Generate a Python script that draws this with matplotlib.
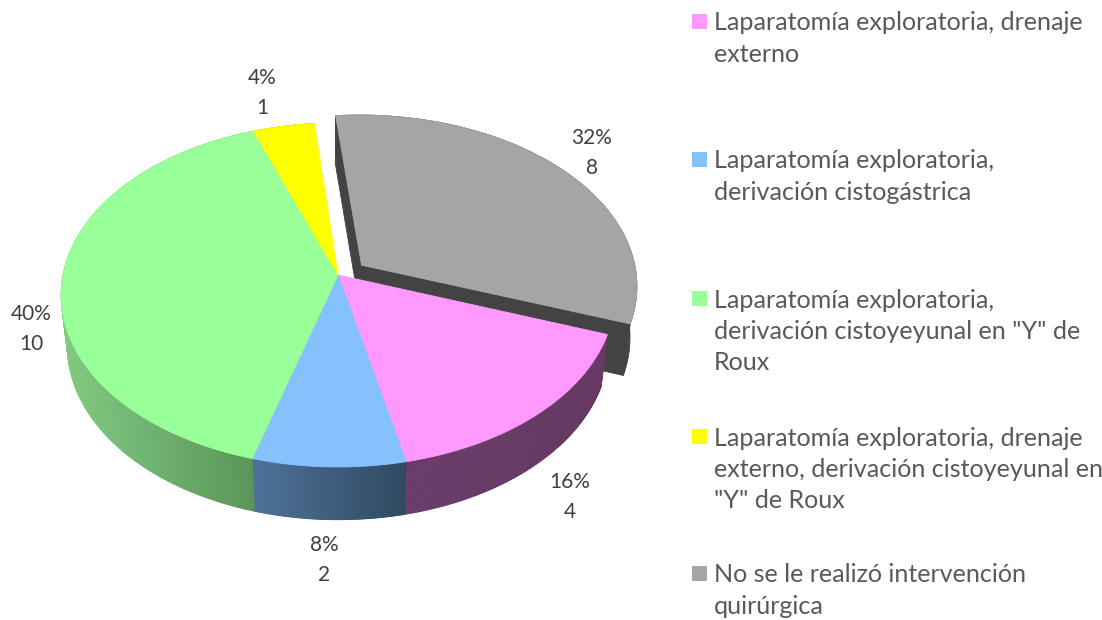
import numpy as np
import matplotlib
matplotlib.use('Agg')
import matplotlib.pyplot as plt
from matplotlib.patches import Polygon, Rectangle
from matplotlib.colors import to_rgb

categories = ['Laparatomía exploratoria, drenaje\nexterno',
              'Laparatomía exploratoria,\nderivación cistogástrica',
              'Laparatomía exploratoria,\nderivación cistoyeyunal en "Y" de\nRoux',
              'Laparatomía exploratoria, drenaje\nexterno, derivación cistoyeyunal en\n"Y" de Roux',
              'No se le realizó intervención\nquirúrgica']
counts = [4, 2, 10, 1, 8]
percents = [16, 8, 40, 4, 32]
colors = ['#FF99FF', '#85C0FF', '#99FF99', '#FFFF00', '#A5A5A5']
side_left = ['#6A3B69', '#4E7298', '#82CA82', '#CCCC00', '#434343']
side_right = ['#663A64', '#2F4A62', '#5A9658', '#CCCC00', '#434343']
explode = [0, 0, 0, 0, 0.095]

# where the labels and the legend sit, in pixels
label_xy = [(570, 497), (324, 560), (31, 329), (262, 93), (592, 153)]
legend_y = [23, 161, 300, 438, 575]

plt.rcParams['font.family'] = ['Lato', 'DejaVu Sans']

CX, CY = 338, 275
A, B, K = 275, 169.7, 0.116
START = -5.5 + 115.2  # pink starts right after the grey slice


def project(u, v):
    w = 1 + K * v
    return CX + A * u / w, CY - B * v / w


def lower(x, y):
    # bottom face of the pie, a bit smaller because it is further away
    return CX + 0.977 * (x - CX), 1.008 * y + 49


def arc(a0, a1, off, n=200):
    t = np.radians(np.linspace(a0, a1, n))
    return project(np.sin(t) + off[0], np.cos(t) + off[1])


fig = plt.figure(figsize=(11.02, 6.2), dpi=100)
ax = fig.add_axes([0, 0, 1, 1])
ax.set_xlim(0, 1102)
ax.set_ylim(620, 0)
ax.axis('off')

# slice angles, clockwise from the top
total = sum(counts)
angles = []
a = START
for c in counts:
    angles.append((a, a + 360 * c / total))
    a += 360 * c / total

offsets = []
for (a0, a1), e in zip(angles, explode):
    mid = np.radians((a0 + a1) / 2)
    # the grey slice sits slightly further right than its mid angle says
    offsets.append((e * np.sin(mid) * 1.15, e * np.cos(mid)))


def quad(xs, ys, color, z):
    ax.add_patch(Polygon(np.column_stack([xs, ys]), closed=True, facecolor=color,
                         edgecolor=color, linewidth=0.6, zorder=z))


# grey slice first: its walls and top lie behind the others
g = 4
gx, gy = arc(*angles[g], offsets[g])
tx, ty = project(*offsets[g])
bx, by = lower(gx, gy)
btx, bty = lower(tx, ty)
quad(np.r_[tx, gx[0], bx[0], btx], np.r_[ty, gy[0], by[0], bty], side_left[g], 1)
quad(np.r_[tx, gx[-1], bx[-1], btx], np.r_[ty, gy[-1], by[-1], bty], side_left[g], 1)
quad(np.r_[gx, bx[::-1]], np.r_[gy, by[::-1]], side_left[g], 1)
quad(np.r_[tx, gx], np.r_[ty, gy], colors[g], 2)

# outer walls of the other slices, shaded from left to right
for i in range(4):
    xs, ys = arc(*angles[i], offsets[i])
    bx, by = lower(xs, ys)
    c0, c1 = np.array(to_rgb(side_left[i])), np.array(to_rgb(side_right[i]))
    span = max(xs.max() - xs.min(), 1)
    for j in range(len(xs) - 1):
        f = (xs[j] - xs.min()) / span
        quad([xs[j], xs[j + 1], bx[j + 1], bx[j]], [ys[j], ys[j + 1], by[j + 1], by[j]],
             tuple(c0 + (c1 - c0) * f), 3)

# top faces
for i in range(4):
    xs, ys = arc(*angles[i], offsets[i])
    tx, ty = project(*offsets[i])
    quad(np.r_[tx, xs], np.r_[ty, ys], colors[i], 4)

for (x, y), p, c in zip(label_xy, percents, counts):
    ax.text(x, y - 15, f'{p}%', ha='center', va='center', fontsize=15, color='#404040', zorder=6)
    ax.text(x, y + 15, f'{c}', ha='center', va='center', fontsize=15, color='#404040', zorder=6)

for name, y, col in zip(categories, legend_y, colors):
    ax.add_patch(Rectangle((692, y - 9), 15, 15, facecolor=col, edgecolor='none'))
    for k, line in enumerate(name.split('\n')):
        ax.text(714, y + k * 31.5, line, ha='left', va='center', fontsize=18.1, color='#595959')

fig.savefig('out.png', dpi=100)
